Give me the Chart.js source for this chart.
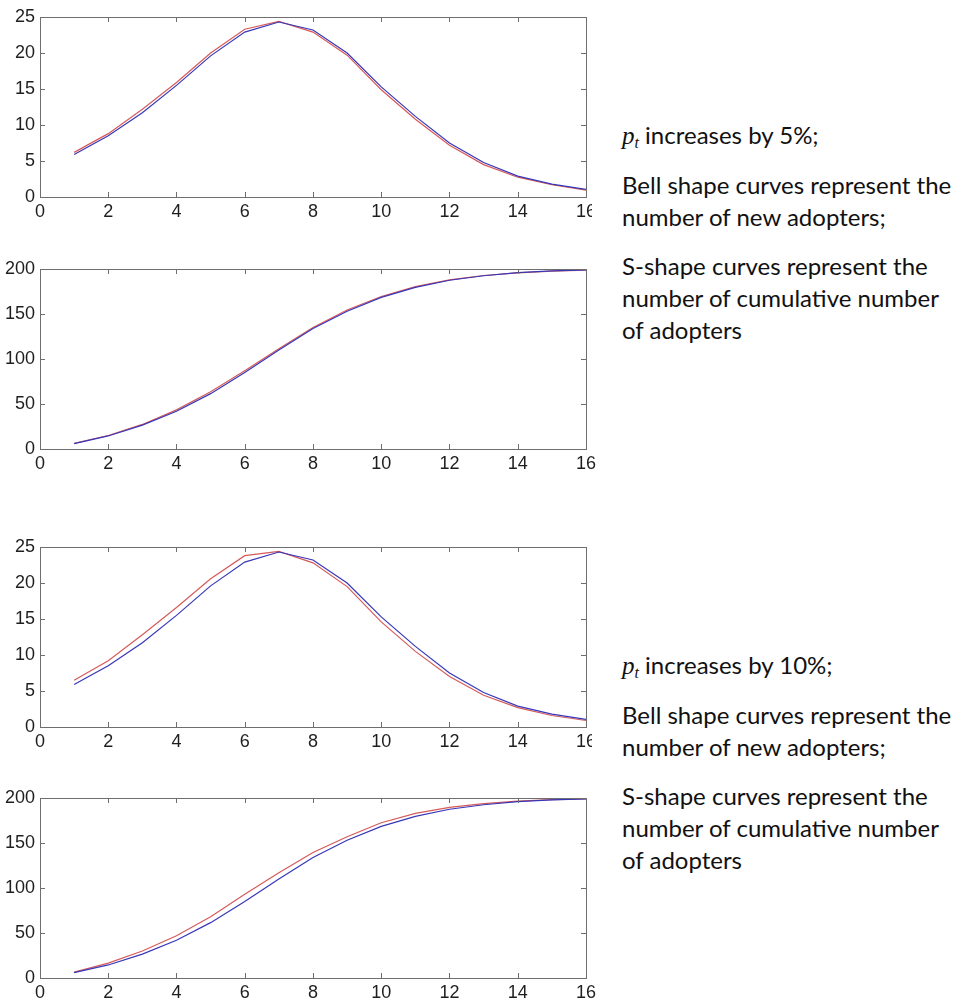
<!DOCTYPE html>
<html>
<head>
<meta charset="utf-8">
<script src="https://cdn.jsdelivr.net/npm/chart.js@4.4.1/dist/chart.umd.min.js"></script>
<style>
body { margin: 0; background: #fff; }
#page { position: relative; width: 962px; height: 1001px; overflow: hidden; background: #fff; }
.panel { position: absolute; left: 0; width: 600px; height: 225px; }
.note { position: absolute; left: 592px; width: 340px; padding-left: 30px; background: #fff;
        font-family: Lato, "Open Sans", sans-serif; font-size: 24px; color: #111; }
.note p { margin: 0; line-height: 32px; white-space: nowrap; }
.note p + p { margin-top: 17px; }
.math { font-family: "Liberation Serif", "DejaVu Serif", serif; font-style: italic; font-size: 25px; }
.math sub { font-size: 16px; vertical-align: -4px; line-height: 0; }
</style>
</head>
<body>
<div id="page">
  <div class="panel" style="top:0px"><canvas id="bell5"></canvas></div>
  <div class="panel" style="top:252px"><canvas id="cum5"></canvas></div>
  <div class="panel" style="top:530px"><canvas id="bell10"></canvas></div>
  <div class="panel" style="top:781px"><canvas id="cum10"></canvas></div>

  <div class="note" style="top:119px">
    <p><span class="math">p<sub>t</sub></span> increases by 5%;</p>
    <p>Bell shape curves represent the<br>number of new adopters;</p>
    <p>S-shape curves represent the<br>number of cumulative number<br>of adopters</p>
  </div>
  <div class="note" style="top:649px">
    <p><span class="math">p<sub>t</sub></span> increases by 10%;</p>
    <p>Bell shape curves represent the<br>number of new adopters;</p>
    <p>S-shape curves represent the<br>number of cumulative number<br>of adopters</p>
  </div>
</div>

<script>
// periods on the x axis
var periods = [1, 2, 3, 4, 5, 6, 7, 8, 9, 10, 11, 12, 13, 14, 15, 16];
var xTicks = [0, 2, 4, 6, 8, 10, 12, 14, 16];
var bellTicks = [0, 5, 10, 15, 20, 25];
var cumTicks = [0, 50, 100, 150, 200];

// base case (blue)
var newBase = [5.9, 8.5, 11.7, 15.5, 19.6, 22.9, 24.3, 23.2, 20.0, 15.3, 11.2, 7.5, 4.8, 2.9, 1.8, 1.05];
var cumBase = [6, 14.5, 26.5, 42, 61.5, 85, 110, 134, 153, 168.5, 179.5, 187.5, 192.5, 196, 198, 199];

// p_t +5% (red)
var newUp5 = [6.2, 8.8, 12.2, 15.9, 20.0, 23.3, 24.4, 22.9, 19.7, 14.9, 10.8, 7.2, 4.5, 2.75, 1.7, 0.95];
var cumUp5 = [6.3, 15, 27.3, 43.5, 63.5, 87, 111.5, 135, 154.5, 169.5, 180.5, 188, 192.8, 195.8, 197.6, 198.7];

// p_t +10% (red)
var newUp10 = [6.5, 9.2, 12.8, 16.6, 20.6, 23.8, 24.4, 22.8, 19.5, 14.6, 10.5, 7.0, 4.4, 2.7, 1.6, 0.9];
var cumUp10 = [6.5, 16.5, 30, 47, 68, 93, 117, 139.5, 157, 172.5, 183, 189.5, 193.8, 196.5, 198.2, 199];

var blue = "rgb(55, 55, 185)";
var red = "rgb(214, 90, 90)";
var axisColor = "#6f6f6f";

function points(values) {
    return periods.map(function(p, i) { return { x: p, y: values[i] }; });
}

// matlab-like box with inward ticks on all four sides
var boxTicks = {
    id: "boxTicks",
    afterDatasetsDraw: function(chart) {
        var ctx = chart.ctx;
        var a = chart.chartArea;
        var xs = chart.scales.x;
        var ys = chart.scales.y;
        ctx.save();
        ctx.strokeStyle = axisColor;
        ctx.lineWidth = 1;
        ctx.beginPath();
        xs.ticks.forEach(function(t) {
            var px = Math.round(xs.getPixelForValue(t.value)) + 0.5;
            ctx.moveTo(px, a.top); ctx.lineTo(px, a.top + 5);
            ctx.moveTo(px, a.bottom); ctx.lineTo(px, a.bottom - 5);
        });
        ys.ticks.forEach(function(t) {
            var py = Math.round(ys.getPixelForValue(t.value)) + 0.5;
            ctx.moveTo(a.left, py); ctx.lineTo(a.left + 5, py);
            ctx.moveTo(a.right, py); ctx.lineTo(a.right - 5, py);
        });
        ctx.stroke();
        ctx.strokeRect(Math.round(a.left) + 0.5, Math.round(a.top) + 0.5,
                       Math.round(a.right - a.left), Math.round(a.bottom - a.top));
        ctx.restore();
    }
};

function makePanel(id, baseValues, newValues, yTicks) {
    var ctx = document.getElementById(id).getContext("2d");
    var tickFont = { family: "'Liberation Sans', Arial, sans-serif", size: 18 };
    return new Chart(ctx, {
        type: "line",
        data: {
            datasets: [
                { data: points(baseValues), borderColor: blue, borderWidth: 1.2, pointRadius: 0, tension: 0 },
                { data: points(newValues), borderColor: red, borderWidth: 1.2, pointRadius: 0, tension: 0 }
            ]
        },
        options: {
            responsive: true,
            maintainAspectRatio: false,
            animation: false,
            layout: { padding: { top: 17, right: 13, bottom: 0, left: 0 } },
            plugins: { legend: { display: false }, tooltip: { enabled: false } },
            scales: {
                x: {
                    type: "linear",
                    min: xTicks[0],
                    max: xTicks[xTicks.length - 1],
                    afterBuildTicks: function(s) { s.ticks = xTicks.map(function(v) { return { value: v }; }); },
                    afterFit: function(s) { s.height = 28; },
                    grid: { display: false, drawTicks: false },
                    border: { display: false },
                    ticks: { color: "#1e1e1e", font: tickFont, padding: 4, maxRotation: 0 }
                },
                y: {
                    min: yTicks[0],
                    max: yTicks[yTicks.length - 1],
                    afterBuildTicks: function(s) { s.ticks = yTicks.map(function(v) { return { value: v }; }); },
                    afterFit: function(s) { s.width = 40; },
                    grid: { display: false, drawTicks: false },
                    border: { display: false },
                    ticks: { color: "#1e1e1e", font: tickFont, padding: 5 }
                }
            }
        },
        plugins: [boxTicks]
    });
}

makePanel("bell5", newBase, newUp5, bellTicks);
makePanel("cum5", cumBase, cumUp5, cumTicks);
makePanel("bell10", newBase, newUp10, bellTicks);
makePanel("cum10", cumBase, cumUp10, cumTicks);
</script>
</body>
</html>
